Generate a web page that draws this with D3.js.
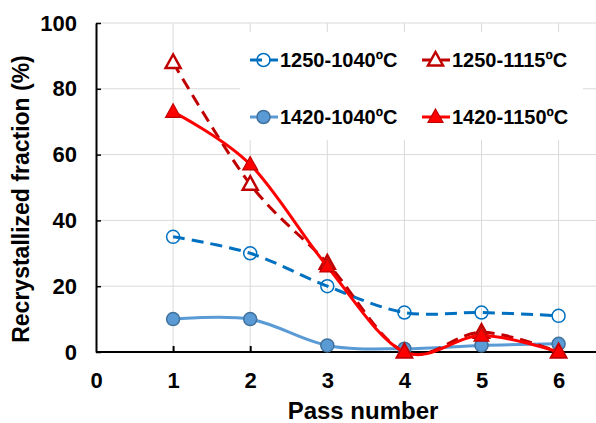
<!DOCTYPE html>
<html>
<head>
<meta charset="utf-8">
<script src="https://cdn.jsdelivr.net/npm/d3@7"></script>
<style>
  html, body { margin: 0; padding: 0; background: #fff; }
  svg { display: block; font-family: "Liberation Sans", Arial, sans-serif; font-weight: bold; }
</style>
</head>
<body>
<svg id="chart" width="596" height="423"></svg>
<script>
const passes = [1, 2, 3, 4, 5, 6];
const xTicks = [0, 1, 2, 3, 4, 5, 6];
const yTicks = [0, 20, 40, 60, 80, 100];
const s1250_1040 = [35, 30, 20, 12, 12, 11];
const s1420_1040 = [10, 10, 2, 1, 2, 2.5];
const s1250_1115 = [88, 51, 27, 0, 6, 0];
const s1420_1150 = [73, 57, 26, 0, 5, 0];
const seriesNames = ["1250-1040ºC", "1250-1115ºC", "1420-1040ºC", "1420-1150ºC"];

const series = [
  { name: seriesNames[0], values: s1250_1040, line: "#0070C0", dash: "12,7", marker: "circle", fill: "none", stroke: "#0070C0" },
  { name: seriesNames[2], values: s1420_1040, line: "#5B9BD5", dash: null, marker: "circle", fill: "#5B9BD5", stroke: "#41719C" },
  { name: seriesNames[1], values: s1250_1115, line: "#C00000", dash: "12,7", marker: "triangle", fill: "#ffffff", stroke: "#C00000" },
  { name: seriesNames[3], values: s1420_1150, line: "#FF0000", dash: null, marker: "triangle", fill: "#FF0000", stroke: "#C00000" }
];

const svg = d3.select("#chart");
const x = d3.scaleLinear().domain([0, 7]).range([96, 635.7]);
const y = d3.scaleLinear().domain([0, 100]).range([352, 23]);

// gridlines
const grid = svg.append("g");
grid.selectAll("line.v").data(xTicks.filter(d => d > 0)).enter().append("line")
  .attr("x1", d => x(d)).attr("x2", d => x(d)).attr("y1", y(100)).attr("y2", y(0))
  .attr("stroke", "#d9d9d9").attr("stroke-width", 1);
grid.selectAll("line.h").data(yTicks.filter(d => d > 0)).enter().append("line")
  .attr("x1", x(0)).attr("x2", 596).attr("y1", d => y(d)).attr("y2", d => y(d))
  .attr("stroke", "#d9d9d9").attr("stroke-width", 1);

// legend background
svg.append("rect").attr("x", 240).attr("y", 32).attr("width", 343).attr("height", 108).attr("fill", "#fff");

// axes
const xAxis = d3.axisBottom(x).tickValues(xTicks).tickFormat(d3.format("d"))
  .tickSizeInner(-6).tickSizeOuter(0).tickPadding(20);
const gx = svg.append("g").attr("transform", `translate(0,${y(0)})`).call(xAxis);
gx.select(".domain").attr("stroke", "#000").attr("stroke-width", 2).attr("d", `M${x(0)},0H596`);
gx.selectAll(".tick line").attr("stroke", "#000").attr("stroke-width", 2);
gx.selectAll(".tick text").attr("font-size", 22).attr("font-weight", "bold").attr("fill", "#000")
  .attr("font-family", "Liberation Sans, Arial, sans-serif");
gx.select(".tick line").remove();

const yAxis = d3.axisLeft(y).tickValues(yTicks).tickFormat(d3.format("d"))
  .tickSizeInner(-5).tickSizeOuter(0).tickPadding(19);
const gy = svg.append("g").attr("transform", `translate(${x(0)},0)`).call(yAxis);
gy.select(".domain").attr("stroke", "#000").attr("stroke-width", 2);
gy.selectAll(".tick line").attr("stroke", "#000").attr("stroke-width", 1.5);
gy.selectAll(".tick text").attr("font-size", 22).attr("font-weight", "bold").attr("fill", "#000")
  .attr("font-family", "Liberation Sans, Arial, sans-serif");

// axis titles
svg.append("text").attr("x", 363).attr("y", 419).attr("text-anchor", "middle")
  .attr("font-size", 24).attr("fill", "#000").text("Pass number");
svg.append("text").attr("transform", "translate(29,199) rotate(-90)").attr("text-anchor", "middle")
  .attr("font-size", 23).attr("fill", "#000").text("Recrystallized fraction (%)");

// lines
const line = d3.line().x((d, i) => x(passes[i])).y(d => y(d)).curve(d3.curveCardinal.tension(0));

const triPath = "M0,-8L7.5,5.5L-7.5,5.5Z";
function drawMarker(g, s, cx, cy) {
  if (s.marker === "circle") {
    g.append("circle").attr("cx", cx).attr("cy", cy).attr("r", 6.5)
      .attr("fill", s.fill).attr("stroke", s.stroke).attr("stroke-width", 1.5);
  } else {
    g.append("path").attr("d", triPath).attr("transform", `translate(${cx},${cy})`)
      .attr("fill", s.fill).attr("stroke", s.stroke).attr("stroke-width", s.fill === "#ffffff" ? 2.5 : 1.2);
  }
}

series.forEach(s => {
  const g = svg.append("g");
  g.append("path").attr("d", line(s.values)).attr("fill", "none")
    .attr("stroke", s.line).attr("stroke-width", 3)
    .attr("stroke-dasharray", s.dash);
  s.values.forEach((v, i) => drawMarker(g, s, x(passes[i]), y(v)));
});

// legend
const legendPos = [
  { s: series[0], lx: 250, ly: 60 },
  { s: series[2], lx: 422, ly: 60 },
  { s: series[1], lx: 250, ly: 117 },
  { s: series[3], lx: 422, ly: 117 }
];
legendPos.forEach(p => {
  const g = svg.append("g");
  g.append("line").attr("x1", p.lx).attr("x2", p.lx + 28).attr("y1", p.ly).attr("y2", p.ly)
    .attr("stroke", p.s.line).attr("stroke-width", 3).attr("stroke-dasharray", p.s.dash);
  drawMarker(g, p.s, p.lx + 13.5, p.ly);
  g.append("text").attr("x", p.lx + 30).attr("y", p.ly + 7).attr("font-size", 20).attr("fill", "#000")
    .text(p.s.name);
});
</script>
</body>
</html>
